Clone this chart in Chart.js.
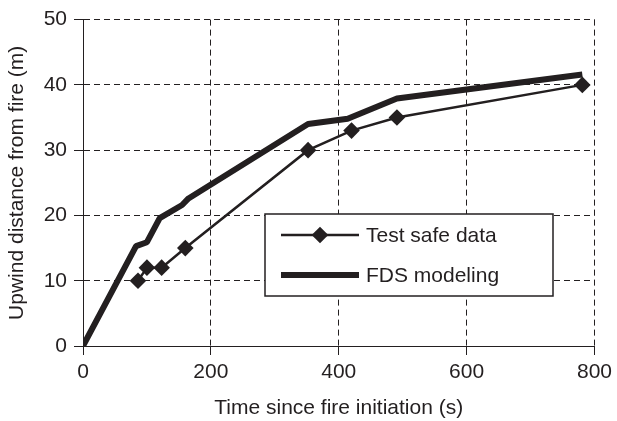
<!DOCTYPE html>
<html>
<head>
<meta charset="utf-8">
<title>Upwind fire spread</title>
<script src="https://cdn.jsdelivr.net/npm/chart.js@4.4.1/dist/chart.umd.min.js"></script>
<style>
    html, body { margin: 0; padding: 0; background: #fff; }
    #spread { display: block; }
</style>
</head>
<body>
<canvas id="spread" width="617" height="421"></canvas>
<script>
"use strict";

// measured test points (time s, distance m)
var testTimes = [86, 100, 123, 160, 352, 420, 491, 781];
var testDist  = [10, 12, 12, 15, 30, 33, 35, 40];

// FDS model curve
var fdsTimes = [0, 83, 100, 120, 155, 165, 352, 414, 491, 781];
var fdsDist  = [0, 15.3, 15.9, 19.6, 21.6, 22.6, 34.0, 34.8, 37.9, 41.6];

var xTicks = [0, 200, 400, 600, 800];
var yTicks = [0, 10, 20, 30, 40, 50];

var seriesLabels = ['Test safe data', 'FDS modeling'];

var INK = '#231f20';
var FONT = '"Liberation Sans", Arial, Helvetica, sans-serif';
var FONT_SIZE = 21;

function toPoints(xs, ys) {
    var pts = [];
    for (var i = 0; i < xs.length; i++) {
        pts.push({x: xs[i], y: ys[i]});
    }
    return pts;
}

// boxed legend sitting inside the plot, lower right
var boxLegend = {
    id: 'boxLegend',
    afterDraw: function(chart) {
        var ctx = chart.ctx;
        var box = {left: 265, top: 214, right: 553, bottom: 296};
        var rows = [235, 275];
        ctx.save();
        ctx.setLineDash([]);
        ctx.fillStyle = '#fff';
        ctx.fillRect(box.left, box.top, box.right - box.left, box.bottom - box.top);
        ctx.strokeStyle = INK;
        ctx.lineWidth = 1.5;
        ctx.strokeRect(box.left, box.top, box.right - box.left, box.bottom - box.top);

        chart.data.datasets.forEach(function(ds, i) {
            var y = rows[i];
            ctx.strokeStyle = ds.borderColor;
            ctx.lineWidth = ds.borderWidth;
            ctx.lineCap = 'butt';
            ctx.beginPath();
            ctx.moveTo(281, y);
            ctx.lineTo(359, y);
            ctx.stroke();
            if (ds.pointRadius > 0) {
                ctx.fillStyle = ds.pointBackgroundColor;
                Chart.helpers.drawPoint(ctx, {
                    pointStyle: ds.pointStyle,
                    radius: ds.pointRadius,
                    rotation: 0,
                    borderWidth: 0
                }, 320, y);
            }
            ctx.fillStyle = INK;
            ctx.font = FONT_SIZE + 'px ' + FONT;
            ctx.textBaseline = 'middle';
            ctx.textAlign = 'left';
            ctx.fillText(ds.label, 366, y + 1);
        });
        ctx.restore();
    }
};

var gridOpts = {
    color: INK,
    lineWidth: 1,
    tickBorderDash: [],
    tickColor: INK,
    tickLength: 9,
    drawTicks: true
};

// in v4 border.dash is what dashes the grid lines
var borderOpts = {display: true, color: INK, width: 1, dash: [6, 4]};

var ctx = document.getElementById('spread').getContext('2d');
var spreadChart = new Chart(ctx, {
    type: 'line',
    data: {
        datasets: [
            {
                label: seriesLabels[0],
                data: toPoints(testTimes, testDist),
                borderColor: INK,
                backgroundColor: INK,
                borderWidth: 2.5,
                pointStyle: 'rectRot',
                pointRadius: 8.3,
                pointBorderWidth: 0,
                pointBackgroundColor: INK,
                pointBorderColor: INK,
                tension: 0,
                order: 1
            },
            {
                label: seriesLabels[1],
                data: toPoints(fdsTimes, fdsDist),
                borderColor: INK,
                backgroundColor: INK,
                borderWidth: 6,
                pointRadius: 0,
                borderJoinStyle: 'bevel',
                tension: 0,
                order: 2
            }
        ]
    },
    options: {
        responsive: false,
        animation: false,
        devicePixelRatio: 1,
        layout: {
            padding: {left: 0, top: 16, right: 18, bottom: 0}
        },
        plugins: {
            legend: {display: false},
            tooltip: {enabled: false}
        },
        scales: {
            x: {
                type: 'linear',
                min: 0,
                max: 800,
                afterBuildTicks: function(scale) {
                    scale.ticks = xTicks.map(function(v) { return {value: v}; });
                },
                afterFit: function(scale) { scale.height = 75; },
                grid: gridOpts,
                border: borderOpts,
                ticks: {
                    color: INK,
                    padding: 5,
                    maxRotation: 0,
                    font: {family: FONT, size: FONT_SIZE}
                },
                title: {
                    display: true,
                    text: 'Time since fire initiation (s)',
                    color: INK,
                    padding: {top: 0, bottom: 0},
                    font: {family: FONT, size: FONT_SIZE}
                }
            },
            y: {
                type: 'linear',
                min: 0,
                max: 50,
                afterBuildTicks: function(scale) {
                    scale.ticks = yTicks.map(function(v) { return {value: v}; });
                },
                afterFit: function(scale) { scale.width = 83; },
                grid: gridOpts,
                border: borderOpts,
                ticks: {
                    color: INK,
                    padding: 7,
                    font: {family: FONT, size: FONT_SIZE}
                },
                title: {
                    display: true,
                    text: 'Upwind distance from fire (m)',
                    color: INK,
                    padding: {top: 5, bottom: 0},
                    font: {family: FONT, size: FONT_SIZE}
                }
            }
        }
    },
    plugins: [boxLegend]
});
</script>
</body>
</html>
